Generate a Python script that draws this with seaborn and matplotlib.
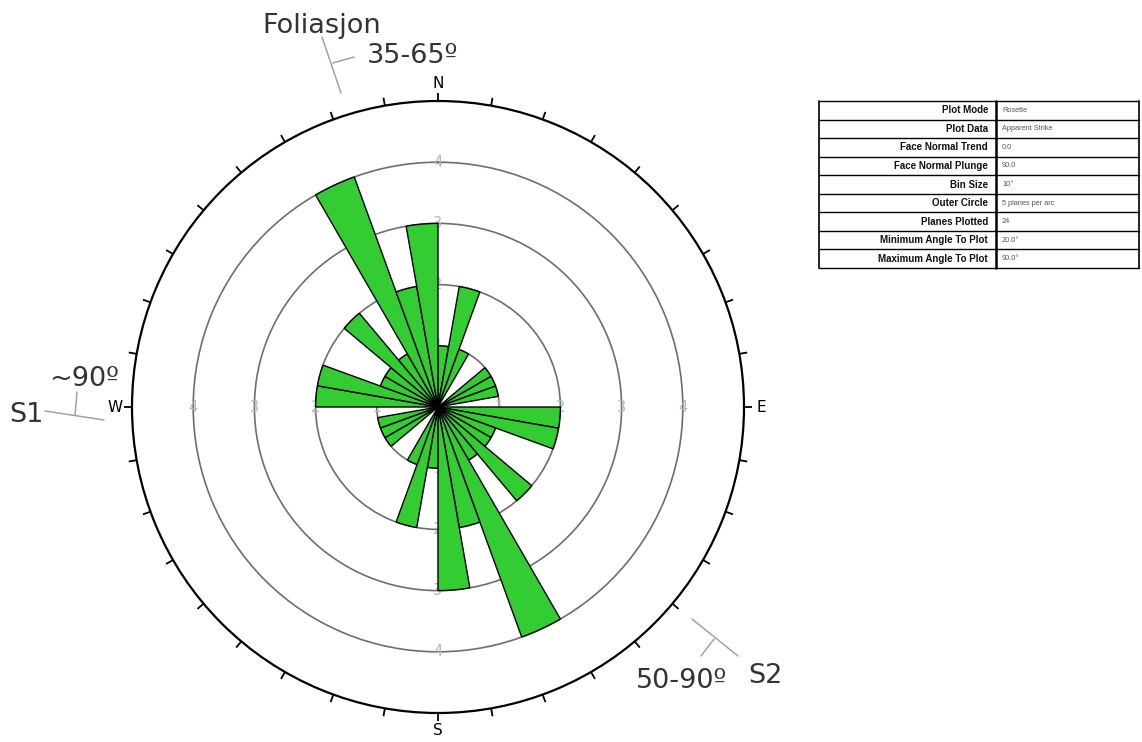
import numpy as np
import matplotlib
matplotlib.use("Agg")
import matplotlib.pyplot as plt
from matplotlib.lines import Line2D
import seaborn as sns

# Apparent-strike rosette: counts per 10-degree bin, 0-180 (mirrored to 180-360)
bin_starts = list(range(0, 180, 10))
bin_counts = [1, 2, 1, 0, 0, 1, 1, 1, 0, 2, 2, 1, 1, 2, 1, 4, 2, 3]
bin_size = 10
outer_circle = 5
ring_values = [1, 2, 3, 4]
compass_labels = {"N": 0, "E": 90, "S": 180, "W": 270}

table_keys = ["Plot Mode", "Plot Data", "Face Normal Trend", "Face Normal Plunge",
              "Bin Size", "Outer Circle", "Planes Plotted",
              "Minimum Angle To Plot", "Maximum Angle To Plot"]
table_values = ["Rosette", "Apparent Strike", "0.0", "90.0", "10°",
                "5 planes per arc", "24", "20.0°", "90.0°"]

sns.set_theme(style="white")
plt.rcParams["font.family"] = ["DejaVu Sans"]

W_PX, H_PX = 1142, 742
fig = plt.figure(figsize=(W_PX / 100, H_PX / 100), dpi=100)
fig.patch.set_facecolor("white")

# rose diagram axes: centre (438, 407) px, outer radius 306 px
cx, cy, rad = 438, 407, 306
ax = fig.add_axes([(cx - rad) / W_PX, (H_PX - cy - rad) / H_PX,
                   2 * rad / W_PX, 2 * rad / H_PX], projection="polar")
ax.set_theta_zero_location("N")
ax.set_theta_direction(-1)
ax.set_ylim(0, outer_circle)
ax.set_facecolor("white")

# bars in both strike directions
theta = np.deg2rad(np.array(bin_starts + [b + 180 for b in bin_starts]) + bin_size / 2)
heights = np.array(bin_counts + bin_counts)
ax.bar(theta, heights, width=np.deg2rad(bin_size), align="center",
       color="#33cc33", edgecolor="black", linewidth=1.0, zorder=2)

# concentric count rings
ax.set_yticks(ring_values)
ax.set_yticklabels([])
ax.yaxis.grid(True, color="#6e6e6e", linewidth=1.2)
ax.xaxis.grid(False)
ax.set_axisbelow(True)
for r in ring_values:
    for d in (0, 90, 180, 270):
        ax.text(np.deg2rad(d), r, str(r), color="#b4b8bc", fontsize=10.5,
                ha="center", va="center", zorder=1)

# outer circle with outward 10-degree ticks
ax.spines["polar"].set_color("black")
ax.spines["polar"].set_linewidth(1.6)
ax.set_xticks([])
tick_len = 8 / (rad / outer_circle)
for d in range(0, 360, 10):
    t = np.deg2rad(d)
    ax.plot([t, t], [outer_circle, outer_circle + tick_len], color="black",
            lw=1.3, clip_on=False, solid_capstyle="butt")
for lab, d in compass_labels.items():
    ax.text(np.deg2rad(d), 5.28, lab, fontsize=11, color="black",
            ha="center", va="center", clip_on=False)

# parameter table
t_left, t_top, t_w, t_h = 819, 101, 320, 167
tax = fig.add_axes([t_left / W_PX, (H_PX - t_top - t_h) / H_PX, t_w / W_PX, t_h / H_PX])
tax.set_xlim(0, t_w)
tax.set_ylim(t_h, 0)
tax.axis("off")
n_rows = len(table_keys)
row_h = t_h / n_rows
split = 177
for i in range(n_rows + 1):
    tax.plot([0, t_w], [i * row_h, i * row_h], color="black", lw=1.0, clip_on=False)
tax.plot([0, 0], [0, t_h], color="black", lw=1.2, clip_on=False)
tax.plot([t_w, t_w], [0, t_h], color="black", lw=1.2, clip_on=False)
tax.plot([split, split], [0, t_h], color="black", lw=1.8, clip_on=False)
for i, (k, v) in enumerate(zip(table_keys, table_values)):
    yc = (i + 0.5) * row_h
    tax.text(split - 8, yc, k, ha="right", va="center", fontsize=7,
             fontweight="bold", family="Liberation Sans", color="#111111")
    tax.text(split + 6, yc, v, ha="left", va="center", fontsize=5.3,
             family="Liberation Sans", color="#555555")

# structural annotations with strike/dip symbols
def px_text(x, y, s):
    fig.text(x / W_PX, 1 - y / H_PX, s, fontsize=19.5, color="#333333",
             ha="left", va="baseline")

def px_line(x0, y0, x1, y1):
    fig.add_artist(Line2D([x0 / W_PX, x1 / W_PX], [1 - y0 / H_PX, 1 - y1 / H_PX],
                          transform=fig.transFigure, color="#a3a396", lw=1.1))

px_text(262, 33, "Foliasjon")
px_text(367, 63, "35-65º")
px_line(322, 37, 341, 93)
px_line(333, 63, 354, 57)

px_text(49, 386, "~90º")
px_text(9, 422, "S1")
px_line(45, 411, 104, 420)
px_line(77, 392, 75, 415)

px_text(636, 688, "50-90º")
px_text(748, 683, "S2")
px_line(692, 619, 738, 656)
px_line(714, 639, 701, 656)

fig.savefig("out.png", dpi=100, facecolor="white")
